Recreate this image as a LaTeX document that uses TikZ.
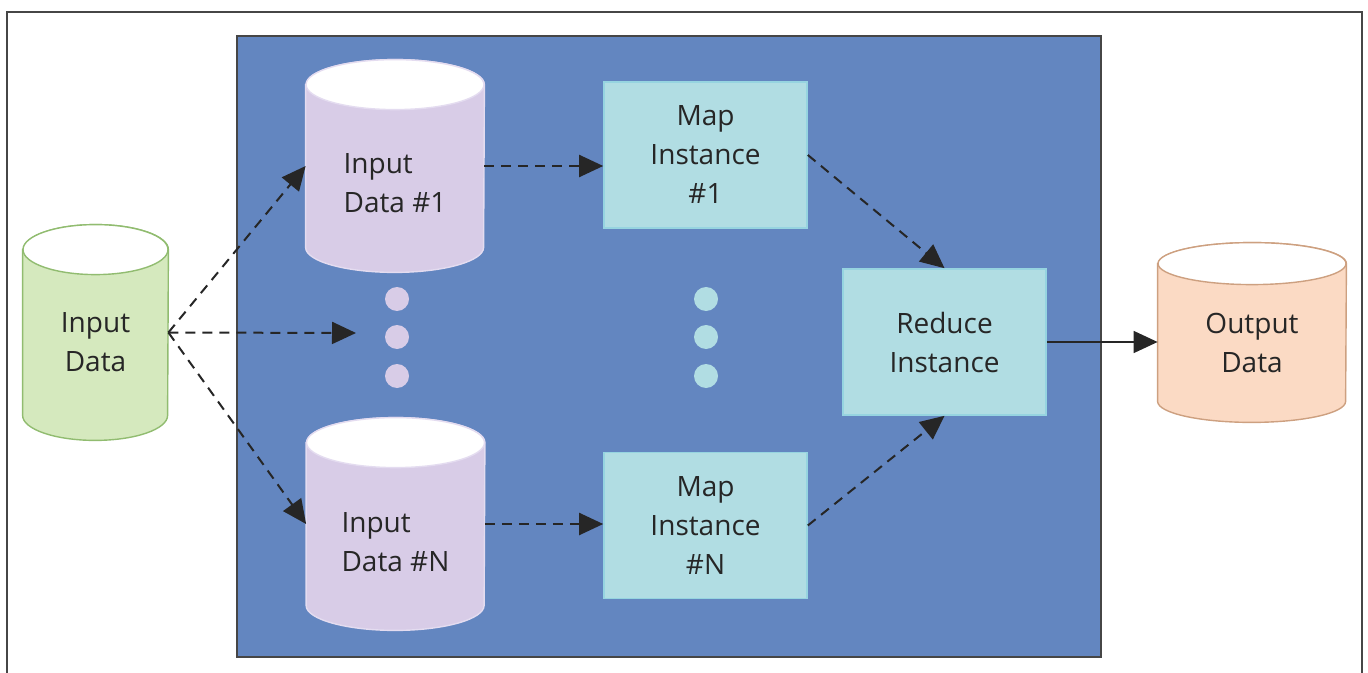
\documentclass[tikz,border=0pt]{standalone}
\usepackage{fontspec}
\setmainfont{Open Sans}
\usepackage{tikz}
\usetikzlibrary{shapes.geometric, arrows.meta, positioning}
\definecolor{bgblue}{RGB}{99,134,192}
\definecolor{edgegrey}{RGB}{70,70,70}
\definecolor{inkgrey}{RGB}{38,38,38}
\definecolor{greenfill}{RGB}{213,233,190}
\definecolor{greenline}{RGB}{145,188,112}
\definecolor{purplefill}{RGB}{216,204,231}
\definecolor{purpleline}{RGB}{228,220,240}
\definecolor{cyanfill}{RGB}{177,221,227}
\definecolor{cyanline}{RGB}{150,212,224}
\definecolor{orangefill}{RGB}{251,218,196}
\definecolor{orangeline}{RGB}{205,160,128}
\tikzset{
    txt/.style={align=center, text=inkgrey, font=\fontsize{14}{19.5}\selectfont},
    store/.style={rectangle, inner sep=0pt, draw=none},
    greenstore/.style={fill=greenfill, draw=greenline, line width=0.7pt},
    purplestore/.style={fill=purplefill, draw=purpleline, line width=0.7pt},
    orangestore/.style={fill=orangefill, draw=orangeline, line width=0.7pt},
    instance/.style={rectangle, minimum width=101.5pt, minimum height=73pt, fill=cyanfill, draw=cyanline, line width=0.8pt, txt},
    dasharrow/.style={draw=inkgrey, line width=1pt, dash pattern=on 5pt off 3.5pt, -{Triangle[length=12pt, width=11pt]}},
    solidarrow/.style={draw=inkgrey, line width=0.8pt, -{Triangle[length=12pt, width=11pt]}}
}
% cylinder drawn round a store node: #1 node, #2 width, #3 end radius, #4 style
\newcommand{\drawstore}[4]{%
    \path[#4] ([yshift=-#3]#1.north west) -- ([yshift=#3]#1.south west)
        arc[start angle=180, end angle=360, x radius=#2/2, y radius=#3]
        -- ([yshift=-#3]#1.north east)
        arc[start angle=0, end angle=180, x radius=#2/2, y radius=#3] -- cycle;
    \path[#4, fill=white] ([yshift=-#3]#1.north) ellipse[x radius=#2/2, y radius=#3];
}
\begin{document}
\begin{tikzpicture}[x=0.5pt, y=-0.5pt]
    \useasboundingbox (0,0) rectangle (1368,673);
    % Frame and cluster
    \draw[edgegrey, line width=1pt] (7,673) -- (7,12) -- (1362,12) -- (1362,673);
    \draw[fill=bgblue, draw=edgegrey, line width=0.8pt] (237,36) rectangle (1101,657);

    % Data stores
    \node[store, minimum width=72.5pt, minimum height=107.5pt] (inputdata) at (95.5,332.5) {};
    \drawstore{inputdata}{72.5pt}{12.5pt}{greenstore}
    \node[txt] (inputdatatext) at ([yshift=-5pt]inputdata.center) {Input\\Data};

    \node[store, minimum width=89pt, minimum height=106pt] (input1) at (395,166) {};
    \drawstore{input1}{89pt}{12.5pt}{purplestore}
    \node[txt, align=left] (input1text) at ([yshift=-8.5pt]input1.center) {Input\\Data \#1};

    \node[store, minimum width=89pt, minimum height=106pt] (inputN) at (395.5,524) {};
    \drawstore{inputN}{89pt}{12.5pt}{purplestore}
    \node[txt, align=left] (inputNtext) at ([yshift=-9pt]inputN.center) {Input\\Data \#N};

    \node[store, minimum width=94pt, minimum height=89.5pt] (output) at (1252,332.5) {};
    \drawstore{output}{94pt}{10.5pt}{orangestore}
    \node[txt] (outputtext) at ([yshift=-5pt]output.center) {Output\\Data};

    % Workers
    \node[instance] (map1) at (705.5,155) {Map\\Instance\\\#1};
    \node[instance] (mapN) at (705.5,525.5) {Map\\Instance\\\#N};
    \node[instance] (reduce) at (944.5,342) {Reduce\\Instance};

    % Ellipsis dots
    \foreach \y in {299, 337, 376} {
        \fill[purplefill] (397,\y) circle (6pt);
        \fill[cyanfill] (706,\y) circle (6pt);
    }

    % Connectors
    \coordinate (split) at (356,333);
    \draw[dasharrow] (inputdata.east) -- (input1.west);
    \draw[dasharrow] (inputdata.east) -- (split);
    \draw[dasharrow] (inputdata.east) -- (inputN.west);
    \draw[dasharrow] (input1.east) -- (input1.east -| map1.west);
    \draw[dasharrow] (inputN.east) -- (inputN.east -| mapN.west);
    \draw[dasharrow] (map1.east) -- (reduce.north);
    \draw[dasharrow] (mapN.east) -- (reduce.south);
    \draw[solidarrow] (reduce.east) -- (reduce.east -| output.west);
\end{tikzpicture}
\end{document}
